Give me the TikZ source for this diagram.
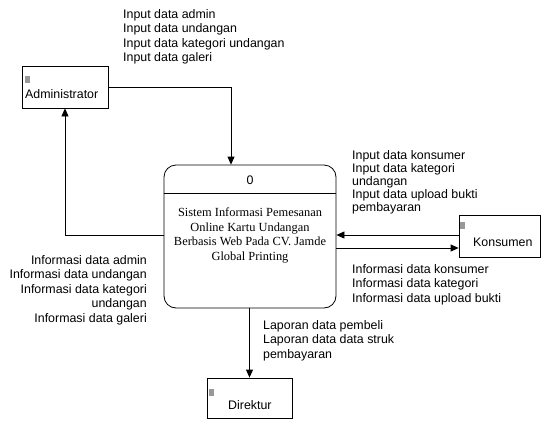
\documentclass[tikz,border=0pt]{standalone}
\usepackage{fontspec}
\setmainfont{Liberation Sans}
\newfontfamily\procfont{Liberation Serif}
\usetikzlibrary{arrows.meta}
\tikzset{
  ent/.style={draw, line width=0.8pt, rectangle, inner sep=0pt},
  proc/.style={draw, line width=0.8pt, rounded corners=12pt, inner sep=0pt},
  arr/.style={draw, line width=0.8pt, -{Triangle[width=7pt,length=8pt]}},
  lbl/.style={inner sep=0pt, font=\fontsize{12.4}{14.5}\selectfont},
  icon/.style={fill=gray!80, draw=none, minimum width=5pt, minimum height=7pt, inner sep=0pt},
}
\begin{document}
\begin{tikzpicture}[x=1pt,y=-1pt]
\useasboundingbox (0,0) rectangle (541,421);
% entities
\node[ent, minimum width=86pt, minimum height=42pt] (admin) at (65,87) {};
\node[ent, minimum width=81pt, minimum height=42pt] (kons) at (499.5,236) {};
\node[ent, minimum width=85pt, minimum height=40pt] (dir) at (249.5,398) {};
\node[proc, minimum width=172pt, minimum height=143pt] (proc) at (250,236.5) {};
\draw[line width=0.8pt] (proc.west |- 0,193) -- (proc.east |- 0,193);
% icons and names
\node[icon] (ia) at (27.5,79) {};
\node[lbl, anchor=west] (na) at (25,94) {Administrator};
\node[icon] (ik) at (462.5,225) {};
\node[lbl, anchor=west] (nk) at (473,242) {Konsumen};
\node[icon] (id) at (211.5,392) {};
\node[lbl, anchor=west] (nd) at (228,405) {Direktur};
\node[lbl] (p0) at (250,180) {0};
\node[lbl, font=\fontsize{12.4}{14.7}\procfont, align=center, anchor=north] (pt) at (250,207.5) {Sistem Informasi Pemesanan\\Online Kartu Undangan\\Berbasis Web Pada CV. Jamde\\Global Printing};
% connectors
\draw[arr] (admin.east) -| (231,0 |- proc.north);
\draw[arr] (proc.west |- 0,235) -| (admin.south);
\draw[arr] (kons.west |- 0,235) -- (proc.east |- 0,235);
\draw[arr] (proc.east |- 0,248) -- (kons.west |- 0,248);
\draw[arr] (proc.south -| dir.north) -- (dir.north);
% labels
\node[lbl, align=left, anchor=north west] (l1) at (123,9) {Input data admin\\Input data undangan\\Input data kategori undangan\\Input data galeri};
\node[lbl, align=left, anchor=north west, font=\fontsize{12.4}{13.2}\selectfont] (l2) at (352,150) {Input data konsumer\\Input data kategori\\undangan\\Input data upload bukti\\pembayaran};
\node[lbl, align=left, anchor=north west] (l3) at (352,264) {Informasi data konsumer\\Informasi data kategori\\Informasi data upload bukti};
\node[lbl, align=right, anchor=north east] (l4) at (147,255) {Informasi data admin\\Informasi data undangan\\Informasi data kategori\\undangan\\Informasi data galeri};
\node[lbl, align=left, anchor=north west] (l5) at (263,320) {Laporan data pembeli\\Laporan data data struk\\pembayaran};
\end{tikzpicture}
\end{document}
